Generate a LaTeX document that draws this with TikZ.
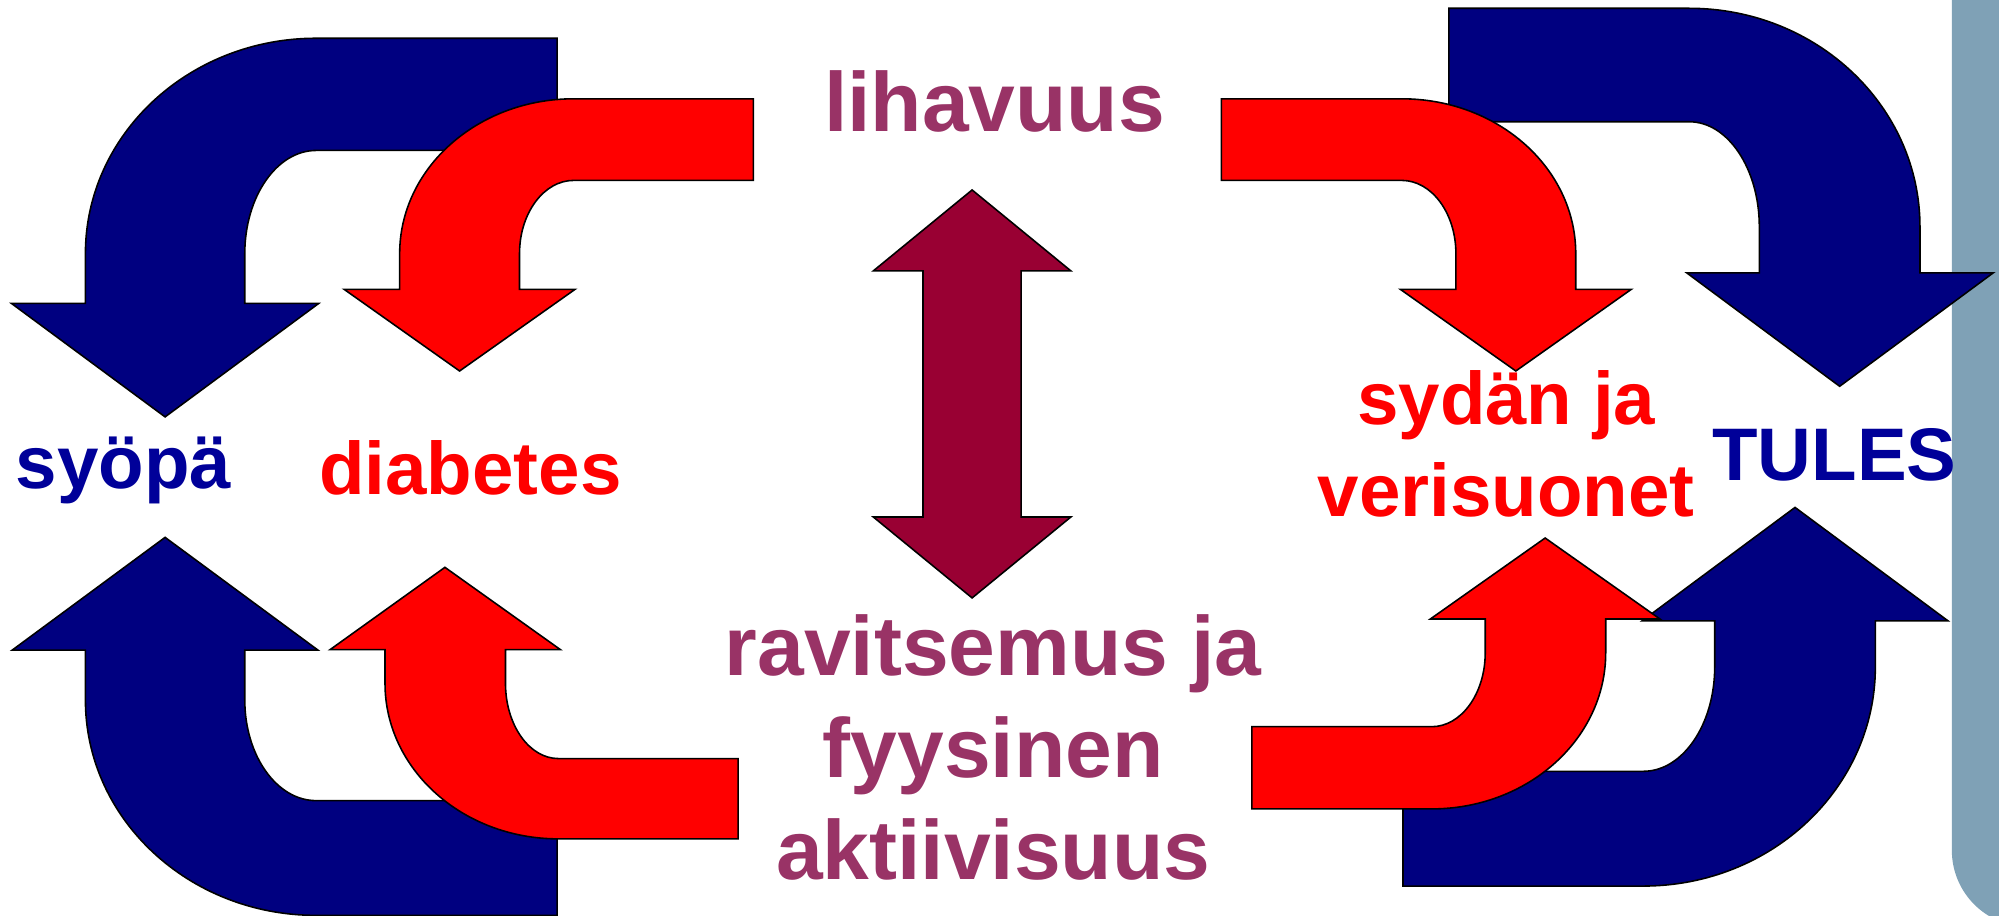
\documentclass[tikz,border=0pt]{standalone}
\usepackage{fontspec}
\setmainfont{Liberation Sans}
\definecolor{arrowblue}{RGB}{0,0,128}
\definecolor{arrowwine}{RGB}{153,0,51}
\definecolor{textplum}{RGB}{153,51,102}
\definecolor{textblue}{RGB}{0,0,153}
\definecolor{sidebar}{RGB}{127,161,182}
\tikzset{
  uturn/.style={draw=black, line width=0.45pt, line join=miter},
  sidetext/.style={font=\bfseries\fontsize{21.2pt}{26pt}\selectfont, inner sep=0pt, anchor=base, align=center},
  midtext/.style={font=\bfseries\fontsize{23.9pt}{28.9pt}\selectfont, inner sep=0pt, anchor=base, align=center, text=textplum},
}
\begin{document}
\begin{tikzpicture}[x=0.12749mm, y=-0.12749mm]
        \useasboundingbox (0,0) rectangle (1568,718.5);
        \clip (0,0) rectangle (1568,718.5);
        \fill [sidebar] (1531,-10) -- (1531,667) arc [start angle=180, end angle=90, radius=60] -- (1600,727) -- (1600,-10) -- cycle;

        \draw [uturn, fill=arrowblue] (437,30) -- (248,30) arc [start angle=270, end angle=180, x radius=181, y radius=169] -- (67,238) -- (9,238) -- (129.5,327) -- (250,238) -- (192,238) -- (192,199) arc [start angle=180, end angle=270, x radius=56, y radius=81] -- (437,118) -- cycle;
        \draw [uturn, fill=arrowblue] (1136.5,6.5) -- (1325,6.5) arc [start angle=270, end angle=360, x radius=181, y radius=171.5] -- (1506,214) -- (1563.5,214) -- (1443,303) -- (1323,214) -- (1380,214) -- (1380,178) arc [start angle=0, end angle=-90, x radius=55, y radius=82.5] -- (1136.5,95.5) -- cycle;
        \draw [uturn, fill=arrowblue] (437,718) -- (248,718) arc [start angle=90, end angle=180, x radius=181, y radius=169] -- (67,510) -- (9.5,510) -- (129.5,421.5) -- (249.5,510) -- (192,510) -- (192,549) arc [start angle=180, end angle=90, x radius=56, y radius=79] -- (437,628) -- cycle;
        \draw [uturn, fill=arrowblue] (1100.5,695) -- (1289,695) arc [start angle=90, end angle=0, x radius=182, y radius=172] -- (1471,487) -- (1528,487) -- (1408,398) -- (1288,487) -- (1345,487) -- (1345,523) arc [start angle=0, end angle=90, x radius=56, y radius=82] -- (1100.5,605) -- cycle;

        \draw [uturn, fill=red] (591,77.5) -- (450,77.5) arc [start angle=270, end angle=180, x radius=136.5, y radius=121.5] -- (313.5,227) -- (270,227) -- (360.5,291) -- (451,227) -- (407.5,227) -- (407.5,199) arc [start angle=180, end angle=270, x radius=42.5, y radius=57.5] -- (591,141.5) -- cycle;
        \draw [uturn, fill=red] (958,77.5) -- (1099.5,77.5) arc [start angle=270, end angle=360, x radius=136.5, y radius=121.5] -- (1236,227) -- (1279.5,227) -- (1189,291) -- (1098.5,227) -- (1142,227) -- (1142,199) arc [start angle=0, end angle=-90, x radius=42.5, y radius=57.5] -- (958,141.5) -- cycle;
        \draw [uturn, fill=red] (579,658) -- (438,658) arc [start angle=90, end angle=180, x radius=136, y radius=122] -- (302,509.5) -- (259,509.5) -- (349,445) -- (439.5,509.5) -- (396.5,509.5) -- (396.5,536) arc [start angle=180, end angle=90, x radius=41.5, y radius=59] -- (579,595) -- cycle;
        \draw [uturn, fill=red] (982,634.5) -- (1123,634.5) arc [start angle=90, end angle=0, x radius=136.5, y radius=122.5] -- (1259.5,485.5) -- (1302,485.5) -- (1212,422) -- (1122,485.5) -- (1165,485.5) -- (1165,512) arc [start angle=0, end angle=90, x radius=42, y radius=58] -- (982,570) -- cycle;

        \draw [uturn, fill=arrowwine] (762.5,149) -- (840,212.5) -- (801,212.5) -- (801,405.5) -- (840,405.5) -- (762.5,469) -- (685,405.5) -- (724,405.5) -- (724,212.5) -- (685,212.5) -- cycle;

        \node [midtext] (lihavuus) at (780,103) {lihavuus};
        \node [midtext] (ravitsemus) at (779,689.5) {ravitsemus ja\\fyysinen\\aktiivisuus};
        \node [sidetext, text=textblue] (syopa) at (97,383) {syöpä};
        \node [sidetext, text=red] (diabetes) at (369,388) {diabetes};
        \node [sidetext, text=red] (sydan) at (1181.5,405) {sydän ja\\verisuonet};
        \node [sidetext, text=textblue] (tules) at (1439,377) {TULES};
\end{tikzpicture}
\end{document}
